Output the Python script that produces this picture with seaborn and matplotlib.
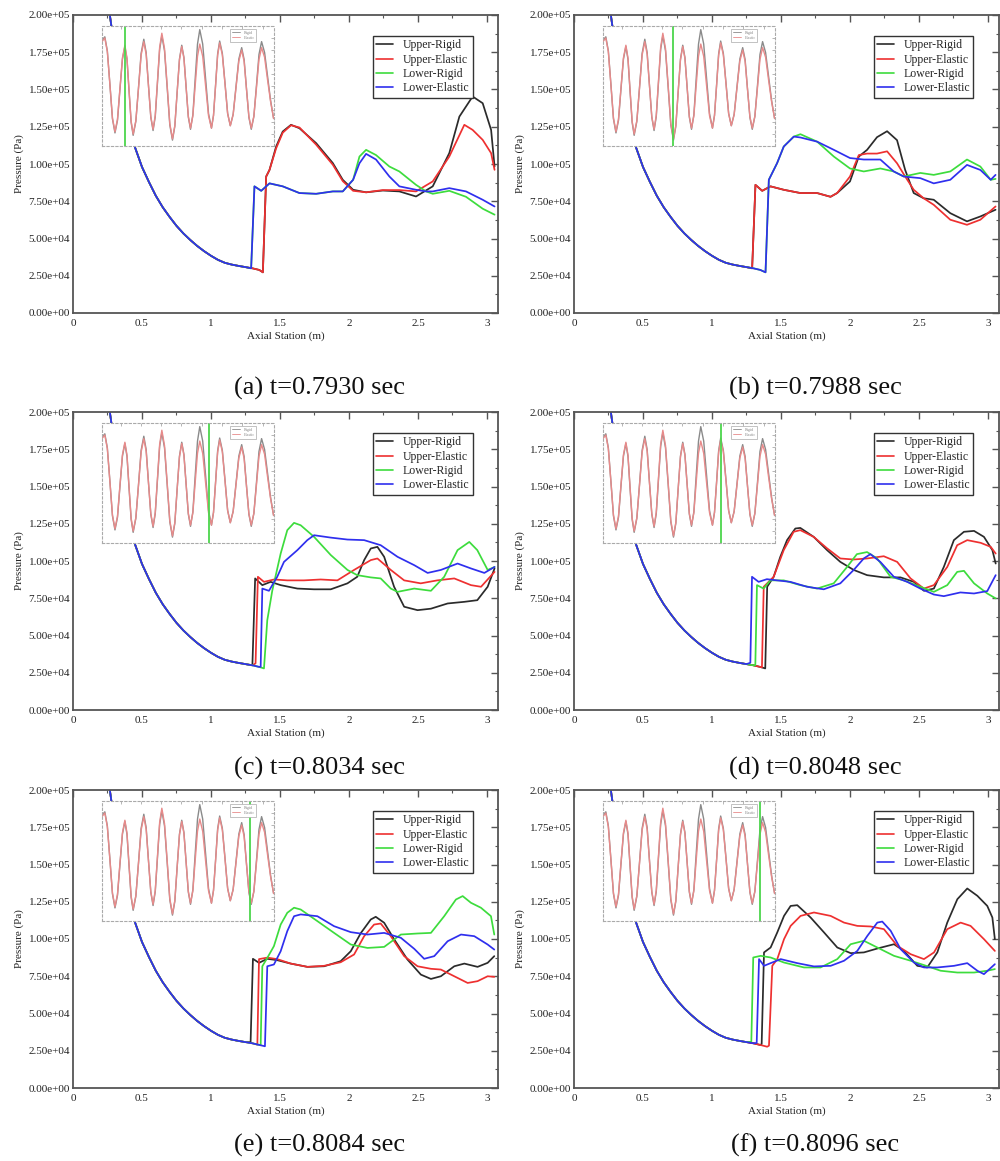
import numpy as np
import pandas as pd
import matplotlib
matplotlib.use("Agg")
import matplotlib.pyplot as plt
import seaborn as sns
from matplotlib.ticker import MultipleLocator, FuncFormatter
from matplotlib.lines import Line2D

# ---------------- data ----------------
SERIES = ["Upper-Rigid", "Upper-Elastic", "Lower-Rigid", "Lower-Elastic"]
COLORS = ["#2b2b2b", "#ee3030", "#3ddc3d", "#2f2fee"]
LETTERS = ["a", "b", "c", "d", "e", "f"]
TIMES = [0.7930, 0.7988, 0.8034, 0.8048, 0.8084, 0.8096]
X_TICKS = [0, 0.5, 1, 1.5, 2, 2.5, 3]

# shared expansion curve ahead of the shock (kPa)
PRE_X = [0.25, 0.27, 0.30, 0.35, 0.40, 0.45, 0.50, 0.55, 0.60, 0.65, 0.70, 0.75,
         0.80, 0.85, 0.90, 0.95, 1.00, 1.05, 1.10, 1.15, 1.20, 1.25, 1.30, 1.35, 1.40]
PRE_Y = [212, 198, 178, 152, 130, 111, 98, 88, 78.7, 71, 64.5, 58.5,
         53.4, 49, 45, 41.5, 38.4, 35.7, 33.7, 32.5, 31.6, 30.8, 30.0, 28.9, 27.7]

# (a) t=0.7930
A_UR_X = [1.376, 1.40, 1.424, 1.472, 1.52, 1.58, 1.641, 1.762, 1.883, 1.955, 2.03, 2.124, 2.245, 2.365, 2.486, 2.607, 2.727, 2.80, 2.896, 2.969, 3.03, 3.055]
A_UR_Y = [27.3, 91.6, 96.0, 111.7, 121.8, 126.3, 124.0, 114.0, 100.6, 89.4, 82.7, 81.0, 82.2, 81.6, 78.2, 85.0, 107.3, 131.8, 145.3, 140.8, 122.9, 98.3]
A_UE_X = [1.376, 1.40, 1.424, 1.472, 1.52, 1.58, 1.641, 1.762, 1.883, 1.955, 2.03, 2.124, 2.245, 2.365, 2.486, 2.607, 2.727, 2.836, 2.896, 2.969, 3.03, 3.055]
A_UE_Y = [27.3, 91.6, 96.0, 110.5, 121.0, 126.0, 124.5, 113.0, 99.5, 88.5, 82.0, 81.0, 82.5, 82.5, 81.6, 88.3, 105.0, 126.3, 122.9, 116.2, 107.3, 96.1]
A_LR_X = [1.291, 1.315, 1.364, 1.424, 1.52, 1.641, 1.762, 1.883, 1.955, 2.03, 2.076, 2.124, 2.196, 2.293, 2.365, 2.486, 2.559, 2.607, 2.727, 2.848, 2.969, 3.055]
A_LR_Y = [30.0, 85.0, 82.0, 87.0, 85.0, 80.5, 80.0, 81.6, 81.6, 89.4, 105.0, 109.5, 106.0, 98.3, 95.0, 86.0, 81.6, 80.0, 82.0, 78.0, 70.0, 66.0]
A_LE_X = [1.291, 1.315, 1.364, 1.424, 1.52, 1.641, 1.762, 1.883, 1.955, 2.03, 2.076, 2.124, 2.196, 2.293, 2.365, 2.486, 2.559, 2.607, 2.727, 2.848, 2.969, 3.055]
A_LE_Y = [30.0, 85.0, 82.0, 87.0, 85.0, 80.5, 80.0, 81.6, 81.6, 89.4, 100.5, 106.8, 103.0, 91.6, 85.0, 82.7, 81.6, 81.6, 83.8, 81.6, 76.0, 71.5]

# (b) t=0.7988
B_UR_X = [1.291, 1.315, 1.364, 1.424, 1.52, 1.641, 1.762, 1.859, 1.907, 2.0, 2.064, 2.124, 2.196, 2.269, 2.341, 2.40, 2.462, 2.534, 2.607, 2.727, 2.848, 2.945, 3.055]
B_UR_Y = [30.0, 86.0, 82.0, 85.0, 82.7, 80.5, 80.5, 78.0, 80.5, 88.3, 105.0, 109.5, 118.0, 122.0, 116.0, 96.0, 80.5, 77.0, 76.0, 67.0, 61.5, 64.8, 69.3]
B_UE_X = [1.291, 1.315, 1.364, 1.424, 1.52, 1.641, 1.762, 1.859, 1.907, 2.0, 2.064, 2.124, 2.196, 2.269, 2.341, 2.40, 2.462, 2.534, 2.607, 2.727, 2.848, 2.945, 3.055]
B_UE_Y = [30.0, 86.0, 82.0, 85.0, 82.7, 80.5, 80.5, 78.0, 80.5, 91.6, 106.0, 107.0, 107.0, 108.5, 100.5, 91.6, 82.7, 77.0, 72.6, 62.6, 59.2, 62.6, 71.5]
B_LR_X = [1.388, 1.412, 1.472, 1.52, 1.593, 1.641, 1.762, 1.883, 2.0, 2.1, 2.22, 2.317, 2.39, 2.51, 2.607, 2.727, 2.848, 2.945, 3.02, 3.055]
B_LR_Y = [27.3, 89.4, 100.6, 111.7, 118.4, 120.0, 115.0, 105.0, 97.0, 95.0, 97.0, 95.0, 91.6, 94.0, 92.7, 95.0, 103.0, 98.3, 89.4, 90.0]
B_LE_X = [1.388, 1.412, 1.472, 1.52, 1.593, 1.641, 1.762, 1.883, 2.0, 2.1, 2.22, 2.317, 2.39, 2.51, 2.607, 2.727, 2.848, 2.945, 3.02, 3.055]
B_LE_Y = [27.3, 89.4, 100.6, 111.7, 118.4, 117.8, 115.0, 109.5, 104.0, 103.0, 103.0, 95.0, 91.6, 90.5, 87.0, 89.4, 99.4, 96.0, 89.4, 92.7]

# (c) t=0.8034
C_UR_X = [1.30, 1.32, 1.372, 1.432, 1.505, 1.626, 1.747, 1.868, 1.989, 2.06, 2.11, 2.158, 2.206, 2.255, 2.327, 2.40, 2.497, 2.594, 2.715, 2.836, 2.93, 3.005, 3.055]
C_UR_Y = [30.0, 88.3, 83.8, 86.0, 83.8, 81.5, 81.0, 81.0, 85.0, 89.4, 100.6, 108.4, 109.5, 102.8, 82.7, 69.3, 67.0, 68.0, 71.5, 72.6, 73.7, 82.7, 95.0]
C_UE_X = [1.323, 1.34, 1.384, 1.457, 1.553, 1.674, 1.795, 1.916, 2.037, 2.158, 2.206, 2.303, 2.40, 2.52, 2.64, 2.763, 2.884, 2.957, 3.055]
C_UE_Y = [31.3, 89.4, 86.0, 87.6, 87.0, 87.0, 87.6, 87.0, 94.0, 100.6, 101.7, 94.0, 87.0, 85.0, 87.0, 88.3, 83.8, 82.7, 92.7]
C_LR_X = [1.384, 1.408, 1.444, 1.505, 1.553, 1.602, 1.65, 1.747, 1.868, 1.989, 2.06, 2.158, 2.23, 2.303, 2.352, 2.473, 2.594, 2.69, 2.787, 2.872, 2.93, 3.005, 3.055]
C_LR_Y = [27.9, 60.3, 80.0, 105.0, 120.7, 125.6, 124.0, 116.2, 104.0, 94.0, 90.5, 89.0, 88.3, 81.5, 79.3, 81.5, 80.0, 89.4, 107.3, 112.8, 107.3, 94.0, 96.0]
C_LE_X = [1.36, 1.372, 1.42, 1.48, 1.529, 1.626, 1.698, 1.747, 1.868, 1.989, 2.11, 2.23, 2.352, 2.473, 2.57, 2.666, 2.787, 2.884, 2.981, 3.055]
C_LE_Y = [29.0, 81.5, 80.0, 89.4, 99.4, 107.3, 114.0, 117.3, 115.7, 114.4, 114.0, 110.6, 102.8, 97.2, 92.0, 94.0, 98.3, 95.0, 92.0, 96.0]

# (d) t=0.8048
D_UR_X = [1.386, 1.40, 1.447, 1.495, 1.544, 1.604, 1.64, 1.737, 1.834, 1.93, 2.027, 2.124, 2.245, 2.366, 2.463, 2.536, 2.608, 2.68, 2.753, 2.826, 2.899, 2.971, 3.032, 3.056]
D_UR_Y = [27.9, 82.7, 89.4, 102.8, 114.0, 121.8, 122.2, 116.2, 107.3, 99.4, 94.0, 90.5, 89.0, 89.0, 86.0, 80.0, 81.5, 96.0, 114.0, 119.6, 120.2, 116.2, 107.3, 98.3]
D_UE_X = [1.362, 1.375, 1.447, 1.52, 1.592, 1.64, 1.737, 1.834, 1.93, 2.027, 2.124, 2.245, 2.342, 2.439, 2.536, 2.608, 2.705, 2.777, 2.85, 2.947, 3.02, 3.056]
D_UE_Y = [28.6, 82.7, 89.4, 107.3, 119.6, 120.7, 116.2, 108.5, 101.7, 101.0, 101.7, 103.2, 99.4, 88.3, 81.5, 83.8, 96.0, 110.6, 114.0, 112.2, 109.5, 105.0]
D_LR_X = [1.314, 1.326, 1.374, 1.423, 1.52, 1.64, 1.761, 1.882, 1.979, 2.05, 2.124, 2.197, 2.294, 2.39, 2.51, 2.608, 2.705, 2.777, 2.826, 2.899, 2.995, 3.056]
D_LR_Y = [30.0, 83.8, 81.5, 87.0, 87.0, 83.8, 81.5, 85.0, 96.0, 104.6, 106.0, 101.7, 89.4, 87.0, 82.7, 79.3, 83.8, 92.7, 93.4, 85.0, 78.2, 74.9]
D_LE_X = [1.278, 1.29, 1.338, 1.398, 1.471, 1.568, 1.689, 1.81, 1.93, 2.027, 2.1, 2.148, 2.22, 2.318, 2.415, 2.51, 2.608, 2.68, 2.8, 2.899, 2.995, 3.056]
D_LE_Y = [31.7, 89.4, 86.0, 87.8, 87.0, 86.0, 82.7, 81.0, 85.0, 94.0, 101.7, 104.6, 99.4, 89.4, 86.0, 81.5, 77.5, 76.4, 78.9, 78.2, 79.8, 90.5]

# (e) t=0.8084
E_UR_X = [1.287, 1.304, 1.348, 1.408, 1.48, 1.578, 1.699, 1.82, 1.94, 2.013, 2.086, 2.158, 2.194, 2.255, 2.328, 2.424, 2.521, 2.594, 2.666, 2.763, 2.836, 2.932, 3.005, 3.053]
E_UR_Y = [30.7, 86.7, 84.0, 86.7, 85.8, 83.5, 81.3, 81.7, 85.1, 91.8, 104.0, 113.1, 114.9, 110.9, 99.7, 86.2, 76.1, 73.2, 75.0, 81.7, 83.5, 81.3, 84.0, 88.5]
E_UE_X = [1.336, 1.348, 1.408, 1.48, 1.578, 1.699, 1.82, 1.94, 2.037, 2.11, 2.182, 2.23, 2.303, 2.40, 2.497, 2.594, 2.666, 2.763, 2.86, 2.932, 3.005, 3.053]
E_UE_Y = [29.1, 86.5, 87.5, 86.5, 83.5, 81.3, 82.0, 84.4, 89.6, 101.9, 109.7, 110.4, 101.9, 88.5, 81.7, 80.0, 79.5, 75.0, 70.5, 71.7, 75.0, 74.6]
E_LR_X = [1.36, 1.372, 1.408, 1.456, 1.505, 1.553, 1.602, 1.65, 1.771, 1.892, 2.013, 2.134, 2.255, 2.376, 2.497, 2.594, 2.69, 2.775, 2.824, 2.884, 2.956, 3.029, 3.053]
E_LR_Y = [28.7, 81.7, 87.3, 95.2, 109.7, 117.6, 121.0, 119.8, 112.0, 104.1, 96.3, 94.0, 94.7, 103.0, 103.7, 104.1, 115.3, 126.5, 128.8, 124.3, 121.0, 115.3, 103.0]
E_LE_X = [1.391, 1.408, 1.456, 1.505, 1.553, 1.602, 1.65, 1.771, 1.892, 2.013, 2.134, 2.255, 2.376, 2.473, 2.545, 2.618, 2.715, 2.812, 2.908, 3.005, 3.053]
E_LE_Y = [28.0, 81.7, 82.9, 91.8, 105.3, 115.3, 116.5, 115.3, 108.6, 104.6, 103.0, 104.1, 100.8, 93.4, 86.7, 88.5, 98.5, 103.0, 101.9, 96.3, 92.9]

# (f) t=0.8096
F_UR_X = [1.36, 1.377, 1.425, 1.473, 1.522, 1.57, 1.618, 1.715, 1.812, 1.908, 2.005, 2.101, 2.198, 2.319, 2.391, 2.488, 2.56, 2.633, 2.705, 2.778, 2.85, 2.923, 2.995, 3.032, 3.05]
F_UR_Y = [29.5, 91.0, 94.3, 104.4, 115.5, 122.2, 122.7, 114.4, 104.4, 94.3, 90.5, 91.0, 93.6, 96.5, 92.0, 82.0, 80.9, 91.0, 111.0, 126.7, 133.9, 129.0, 122.2, 114.4, 99.9]
F_UE_X = [1.413, 1.437, 1.473, 1.522, 1.57, 1.642, 1.739, 1.86, 1.957, 2.053, 2.15, 2.246, 2.343, 2.44, 2.536, 2.609, 2.705, 2.802, 2.874, 2.971, 3.05]
F_UE_Y = [28.4, 82.0, 86.5, 99.9, 108.8, 115.5, 117.8, 115.5, 111.0, 108.8, 108.4, 106.6, 95.4, 89.8, 86.5, 91.0, 106.6, 111.0, 108.8, 99.9, 92.0]
F_LR_X = [1.285, 1.299, 1.353, 1.425, 1.522, 1.667, 1.787, 1.908, 2.005, 2.101, 2.198, 2.319, 2.44, 2.536, 2.657, 2.778, 2.899, 2.995, 3.05]
F_LR_Y = [31.0, 87.6, 88.7, 87.6, 84.2, 80.9, 80.9, 86.5, 96.5, 98.8, 94.3, 88.7, 85.4, 82.5, 78.7, 77.5, 77.5, 78.7, 79.8]
F_LE_X = [1.324, 1.341, 1.377, 1.425, 1.498, 1.618, 1.739, 1.86, 1.957, 2.053, 2.126, 2.198, 2.234, 2.295, 2.367, 2.464, 2.536, 2.633, 2.754, 2.85, 2.923, 2.971, 3.05]
F_LE_Y = [30.2, 86.5, 82.0, 83.8, 86.5, 83.8, 81.6, 82.0, 85.4, 92.0, 102.1, 111.0, 111.7, 105.5, 93.2, 84.2, 80.9, 80.9, 82.0, 83.8, 78.7, 76.4, 83.1]

# inset: pressure history (normalised), time in s
INSET_T = [0.7902, 0.79056, 0.79087, 0.79119, 0.79150, 0.79181, 0.79212, 0.79242, 0.79273, 0.79303,
           0.79329, 0.79354, 0.79380, 0.79405, 0.79438, 0.79471, 0.79503, 0.79536, 0.79565, 0.79593,
           0.79622, 0.79650, 0.79677, 0.79704, 0.79731, 0.79758, 0.79791, 0.79824, 0.79856, 0.79889,
           0.79918, 0.79946, 0.79975, 0.80003, 0.80030, 0.80057, 0.80084, 0.80111, 0.80140, 0.80168,
           0.80197, 0.80225, 0.80261, 0.80297, 0.80333, 0.80369, 0.80394, 0.80420, 0.80445, 0.80470,
           0.80503, 0.80536, 0.80568, 0.80601, 0.80636, 0.80671, 0.80706, 0.80741, 0.80771, 0.80800,
           0.80830, 0.80859, 0.80891, 0.80923, 0.80954, 0.80986, 0.81023, 0.81060, 0.81097, 0.81134]
INSET_RIGID = [0.88, 0.91, 0.793, 0.51, 0.227, 0.11, 0.215, 0.47, 0.725, 0.83,
               0.722, 0.46, 0.198, 0.09, 0.207, 0.49, 0.773, 0.89, 0.779, 0.51,
               0.241, 0.13, 0.245, 0.525, 0.805, 0.92, 0.793, 0.485, 0.177, 0.05,
               0.165, 0.445, 0.725, 0.84, 0.738, 0.49, 0.242, 0.14, 0.261, 0.555,
               0.849, 0.97, 0.85, 0.56, 0.27, 0.15, 0.256, 0.5125, 0.769, 0.875,
               0.772, 0.5225, 0.273, 0.17, 0.265, 0.495, 0.725, 0.82, 0.721, 0.48,
               0.239, 0.14, 0.247, 0.505, 0.763, 0.87, 0.78, 0.58, 0.38, 0.23]
INSET_ELASTIC = [0.87, 0.90, 0.786, 0.51, 0.234, 0.12, 0.225, 0.48, 0.735, 0.84,
                 0.732, 0.47, 0.208, 0.10, 0.212, 0.485, 0.758, 0.87, 0.763, 0.505,
                 0.247, 0.14, 0.257, 0.54, 0.823, 0.94, 0.812, 0.50, 0.188, 0.06,
                 0.172, 0.445, 0.718, 0.83, 0.731, 0.49, 0.249, 0.15, 0.252, 0.50,
                 0.748, 0.85, 0.748, 0.50, 0.252, 0.15, 0.254, 0.505, 0.756, 0.86,
                 0.759, 0.515, 0.271, 0.17, 0.262, 0.485, 0.708, 0.80, 0.705, 0.475,
                 0.245, 0.15, 0.248, 0.485, 0.722, 0.82, 0.74, 0.55, 0.37, 0.23]

PANELS = [
    [(A_UR_X, A_UR_Y), (A_UE_X, A_UE_Y), (A_LR_X, A_LR_Y), (A_LE_X, A_LE_Y)],
    [(B_UR_X, B_UR_Y), (B_UE_X, B_UE_Y), (B_LR_X, B_LR_Y), (B_LE_X, B_LE_Y)],
    [(C_UR_X, C_UR_Y), (C_UE_X, C_UE_Y), (C_LR_X, C_LR_Y), (C_LE_X, C_LE_Y)],
    [(D_UR_X, D_UR_Y), (D_UE_X, D_UE_Y), (D_LR_X, D_LR_Y), (D_LE_X, D_LE_Y)],
    [(E_UR_X, E_UR_Y), (E_UE_X, E_UE_Y), (E_LR_X, E_LR_Y), (E_LE_X, E_LE_Y)],
    [(F_UR_X, F_UR_Y), (F_UE_X, F_UE_Y), (F_LR_X, F_LR_Y), (F_LE_X, F_LE_Y)],
]

# ---------------- style ----------------
sns.set_theme(style="white")
plt.rcParams["font.family"] = ["Liberation Serif", "DejaVu Serif"]

W, H = 1000, 1161
fig = plt.figure(figsize=(W / 100, H / 100), dpi=100)
fig.patch.set_facecolor("white")

LEFTS = [73, 574]
TOPS = [15, 412, 790]
AX_W, AX_H = 425, 298
CAP_Y = [388, 768, 1145]
CAP_X = [320, 815]
SPINE = "#555555"

inset_df = pd.DataFrame({
    "t": INSET_T * 2,
    "v": INSET_RIGID + INSET_ELASTIC,
    "kind": ["Rigid"] * len(INSET_T) + ["Elastic"] * len(INSET_T),
})

for i, series in enumerate(PANELS):
    row, col = divmod(i, 2)
    left = LEFTS[col]
    top = TOPS[row]
    ax = fig.add_axes([left / W, 1 - (top + AX_H) / H, AX_W / W, AX_H / H])
    ax.set_facecolor("white")

    rows = []
    for name, (sx, sy) in zip(SERIES, series):
        xs = sx[0]
        px = [x for x in PRE_X if x < xs]
        py = [y for x, y in zip(PRE_X, PRE_Y) if x < xs]
        for x, y in zip(px + list(sx), py + list(sy)):
            rows.append({"x": x, "p": y * 1000.0, "series": name})
    df = pd.DataFrame(rows)
    sns.lineplot(data=df, x="x", y="p", hue="series", hue_order=SERIES,
                 palette=COLORS, sort=False, estimator=None, linewidth=1.25,
                 legend=False, ax=ax)

    ax.set_xlim(0, 3.08)
    ax.set_ylim(0, 2.0e5)
    ax.set_xticks(X_TICKS)
    ax.xaxis.set_major_formatter(FuncFormatter(lambda v, p: f"{v:g}"))
    ax.xaxis.set_minor_locator(MultipleLocator(0.25))
    ax.yaxis.set_major_locator(MultipleLocator(25000))
    ax.yaxis.set_minor_locator(MultipleLocator(12500))
    ax.yaxis.set_major_formatter(FuncFormatter(lambda v, p: f"{v:.2e}"))
    ax.tick_params(which="both", direction="in", top=True, right=True,
                   color=SPINE, labelsize=8, labelcolor="#222222")
    ax.tick_params(which="major", length=5, width=1.0)
    ax.tick_params(which="minor", length=2.5, width=0.8)
    ax.tick_params(axis="y", pad=2)
    ax.tick_params(axis="x", pad=4.5)
    for s in ax.spines.values():
        s.set_color(SPINE)
        s.set_linewidth(1.3)
    ax.set_xlabel("Axial Station (m)", fontsize=8, labelpad=2.5, color="#222222")
    ax.set_ylabel("Pressure (Pa)", fontsize=8, labelpad=3, color="#222222")

    handles = [Line2D([], [], color=c, lw=1.2) for c in COLORS]
    leg = ax.legend(handles, SERIES, loc="upper right", bbox_to_anchor=(0.94, 0.93),
                    fontsize=8.5, frameon=True, fancybox=False, framealpha=1,
                    edgecolor="#333333", handlelength=1.4, handletextpad=0.8,
                    labelspacing=0.2, borderpad=0.3, borderaxespad=0)
    leg.get_frame().set_linewidth(1.0)

    # inset with pressure history
    ins = ax.inset_axes([0.068, 0.56, 0.404, 0.403])
    ins.set_facecolor("white")
    sns.lineplot(data=inset_df, x="t", y="v", hue="kind", hue_order=["Rigid", "Elastic"],
                 palette=["#8a8a8a", "#e88a8a"], sort=False, estimator=None,
                 linewidth=1.0, legend=False, ax=ins)
    ins.axvline(TIMES[i], color="#4cd64c", lw=1.3)
    ins.set_xlim(INSET_T[0], INSET_T[-1])
    ins.set_ylim(0, 1)
    ins.set_xlabel("")
    ins.set_ylabel("")
    ins.xaxis.set_major_locator(MultipleLocator(0.0025))
    ins.yaxis.set_major_locator(MultipleLocator(0.1))
    ins.tick_params(which="both", direction="in", top=True, right=True, length=2,
                    width=0.6, color="#aaaaaa", labelbottom=False, labelleft=False)
    for s in ins.spines.values():
        s.set_color("#aaaaaa")
        s.set_linewidth(0.8)
        s.set_linestyle((0, (2, 2)))
    ih = [Line2D([], [], color="#8a8a8a", lw=0.6), Line2D([], [], color="#e88a8a", lw=0.6)]
    il = ins.legend(ih, ["Rigid", "Elastic"], loc="upper right", bbox_to_anchor=(0.9, 0.975),
                    fontsize=3, frameon=True, fancybox=False, framealpha=1,
                    edgecolor="#aaaaaa", handlelength=2, labelspacing=0.3,
                    borderpad=0.4, borderaxespad=0)
    il.get_frame().set_linewidth(0.5)
    for t in il.get_texts():
        t.set_color("#888888")

    fig.text(CAP_X[col] / W, 1 - CAP_Y[row] / H,
             f"({LETTERS[i]}) t={TIMES[i]:.4f} sec",
             ha="center", va="center", fontsize=19, color="#111111")

fig.savefig("out.png", dpi=100, facecolor="white")
